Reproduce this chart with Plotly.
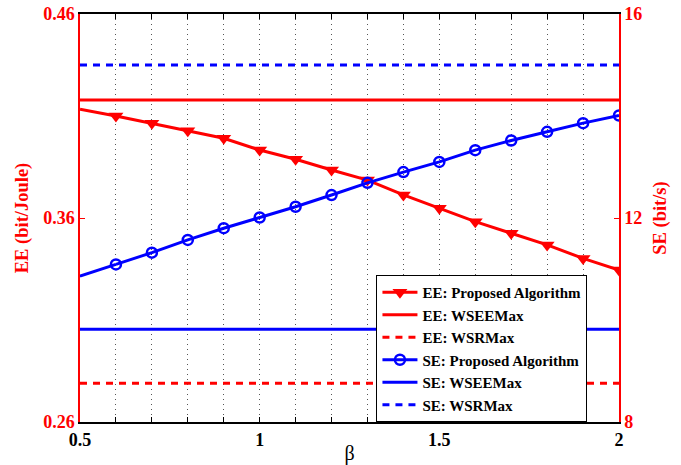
import plotly.graph_objects as go

beta = [0.5, 0.6, 0.7, 0.8, 0.9, 1.0, 1.1, 1.2, 1.3, 1.4, 1.5, 1.6, 1.7, 1.8, 1.9, 2.0]
ee_proposed = [0.4133, 0.4100, 0.4064, 0.4028, 0.3991, 0.3933, 0.3888, 0.3835, 0.3786,
               0.3713, 0.3648, 0.3582, 0.3525, 0.3468, 0.3402, 0.3345]
se_proposed = [10.86, 11.09, 11.32, 11.57, 11.80, 12.01, 12.22, 12.45, 12.69,
               12.90, 13.10, 13.33, 13.52, 13.69, 13.86, 14.01]
ee_wseemax = 0.4178
ee_wsrmax = 0.279
se_wseemax = 9.82
se_wsrmax = 15.0

RED = "#ff0000"
BLUE = "#0000ff"
FONT = "Liberation Serif"
DASH = "7px,6px"

fig = go.Figure()
xr = [beta[0], beta[-1]]

# EE traces (left axis)
fig.add_trace(go.Scatter(x=beta[:2], y=ee_proposed[:2], mode="lines",
                         line=dict(color=RED, width=3), showlegend=False, yaxis="y"))
fig.add_trace(go.Scatter(x=beta[1:], y=ee_proposed[1:], mode="lines+markers",
                         name="EE: Proposed Algorithm",
                         line=dict(color=RED, width=3),
                         marker=dict(symbol="triangle-down", size=13, color=RED), yaxis="y"))
fig.add_trace(go.Scatter(x=xr, y=[ee_wseemax] * 2, mode="lines", name="EE: WSEEMax",
                         line=dict(color=RED, width=3), yaxis="y"))
fig.add_trace(go.Scatter(x=xr, y=[ee_wsrmax] * 2, mode="lines", name="EE: WSRMax",
                         line=dict(color=RED, width=3, dash=DASH), yaxis="y"))

# SE traces (right axis)
fig.add_trace(go.Scatter(x=beta[:2], y=se_proposed[:2], mode="lines",
                         line=dict(color=BLUE, width=3), showlegend=False, yaxis="y2"))
fig.add_trace(go.Scatter(x=beta[1:], y=se_proposed[1:], mode="lines+markers",
                         name="SE: Proposed Algorithm",
                         line=dict(color=BLUE, width=3),
                         marker=dict(symbol="circle-open", size=10, color=BLUE,
                                     line=dict(width=2.5, color=BLUE)), yaxis="y2"))
fig.add_trace(go.Scatter(x=xr, y=[se_wseemax] * 2, mode="lines", name="SE: WSEEMax",
                         line=dict(color=BLUE, width=3), yaxis="y2"))
fig.add_trace(go.Scatter(x=xr, y=[se_wsrmax] * 2, mode="lines", name="SE: WSRMax",
                         line=dict(color=BLUE, width=3, dash=DASH), yaxis="y2"))

GRID = dict(showgrid=True, gridcolor="#555555", griddash="1px,4px", gridwidth=1)

fig.update_layout(
    width=681, height=465,
    margin=dict(l=80, r=62, t=14, b=43),
    paper_bgcolor="white", plot_bgcolor="white",
    font=dict(family=FONT, color="black"),
    xaxis=dict(range=[0.5, 2], tickvals=[0.5, 1, 1.5, 2], ticktext=["0.5", "1", "1.5", "2"],
               ticks="inside", ticklen=5, tickcolor="black", tickwidth=1,
               showline=True, linecolor="black", linewidth=2, mirror="ticks",
               minor=dict(dtick=0.1, tick0=0.5, ticks="inside", ticklen=5, tickcolor="black",
                          **GRID),
               tickfont=dict(family=FONT, size=18, color="black", weight="bold"),
               title=dict(text="β", font=dict(family=FONT, size=20, color="black"), standoff=1),
               zeroline=False, automargin=False, **GRID),
    yaxis=dict(range=[0.26, 0.46], tickvals=[0.26, 0.36, 0.46], ticktext=["0.26", "0.36", "0.46"],
               ticks="inside", ticklen=5, tickcolor=RED,
               showline=True, linecolor=RED, linewidth=1.5, showgrid=False, zeroline=False,
               automargin=False,
               tickfont=dict(family=FONT, size=18, color=RED, weight="bold"),
               title=dict(text="EE (bit/Joule)", font=dict(family=FONT, size=18.5, color=RED, weight="bold"),
                          standoff=10)),
    yaxis2=dict(range=[8, 16], tickvals=[8, 12, 16], ticktext=["8", "12", "16"],
                overlaying="y", side="right", anchor="x",
                ticks="inside", ticklen=5, tickcolor=RED,
                showline=True, linecolor=RED, linewidth=1.5, showgrid=False, zeroline=False,
                automargin=False,
                tickfont=dict(family=FONT, size=18, color=RED, weight="bold"),
                title=dict(text="SE (bit/s)", font=dict(family=FONT, size=18.5, color=RED, weight="bold"),
                           standoff=12)),
    legend=dict(x=0.55, y=0, xanchor="left", yanchor="bottom",
                bgcolor="white", bordercolor="black", borderwidth=1,
                font=dict(family=FONT, size=15, color="black", weight="bold"),
                itemwidth=35, tracegroupgap=0),
)

fig.write_html("out.html")
